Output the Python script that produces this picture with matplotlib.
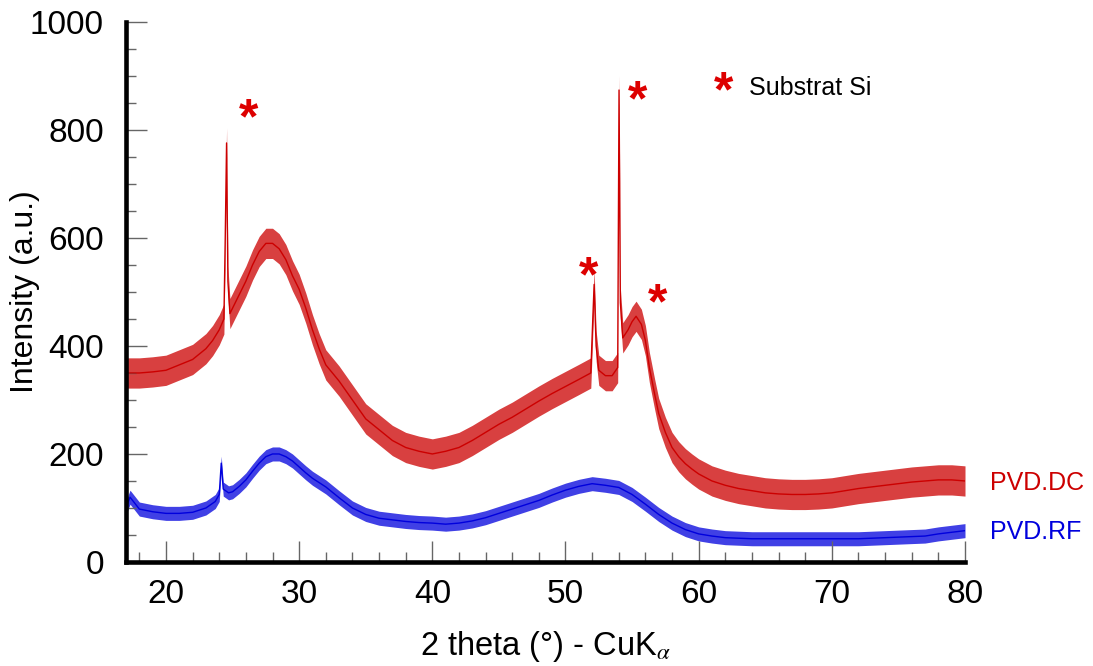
import matplotlib
matplotlib.use("Agg")
import matplotlib.pyplot as plt
import numpy as np

plt.rcParams['font.family'] = ['Liberation Sans', 'DejaVu Sans']
plt.rcParams['mathtext.fontset'] = 'stix'

# ---- data (2 theta in degrees, intensity in a.u.) ----
dc_x = [17, 18, 19, 20, 21, 22, 23, 23.5, 24, 24.35, 24.45, 24.55, 24.65, 24.8, 25, 25.5,
        26, 26.5, 27, 27.5, 28, 28.5, 29, 29.5, 30, 30.5, 31, 31.5, 32, 33, 34, 35, 36,
        37, 38, 39, 40, 41, 42, 43, 44, 45, 46, 47, 48, 49, 50, 51, 51.9, 52.05, 52.15,
        52.3, 52.5, 53, 53.5, 53.92, 54.02, 54.12, 54.3, 54.7, 55, 55.3, 55.7, 56, 56.3,
        56.7, 57, 57.5, 58, 58.5, 59, 59.5, 60, 61, 62, 63, 64, 65, 66, 67, 68, 69, 70,
        71, 72, 73, 74, 75, 76, 77, 78, 79, 80]
dc_y = [350, 350, 352, 355, 365, 375, 395, 410, 430, 450, 600, 776, 520, 460, 470, 495,
        520, 550, 575, 590, 590, 580, 560, 530, 505, 470, 430, 395, 365, 335, 300, 265, 245,
        225, 212, 205, 200, 205, 212, 225, 240, 255, 268, 283, 298, 312, 325, 338, 350, 450, 514,
        400, 355, 345, 345, 360, 874, 480, 415, 430, 445, 455, 440, 410, 360,
        310, 275, 240, 212, 195, 182, 172, 163, 150, 142, 136, 132, 128, 126, 125, 125, 126, 128,
        132, 136, 139, 142, 145, 148, 150, 152, 152, 150]
dc_noise = 28   # half width of the noise band

rf_x = [17, 17.3, 18, 19, 20, 21, 22, 23, 23.7, 24.0, 24.15, 24.3, 24.7, 25, 25.5, 26, 26.5,
        27, 27.5, 28, 28.5, 29, 29.5, 30, 30.5, 31, 31.5, 32, 33, 34, 35, 36, 37, 38, 39,
        40, 41, 42, 43, 44, 45, 46, 47, 48, 49, 50, 51, 52, 53, 54, 55, 56, 57, 58, 59,
        60, 61, 62, 63, 64, 65, 66, 67, 68, 69, 70, 71, 72, 73, 74, 75, 76, 77, 78, 79, 80]
rf_y = [100, 120, 98, 93, 90, 90, 92, 100, 112, 125, 183, 135, 128, 130, 140, 152, 168,
        183, 195, 200, 200, 195, 187, 176, 165, 155, 147, 139, 119, 100, 88, 81, 78, 75, 73,
        72, 70, 72, 76, 82, 90, 98, 106, 114, 124, 133, 140, 145, 142, 138, 125, 107, 88, 72, 60,
        52, 48, 45, 44, 43, 43, 43, 43, 43, 43, 43, 43, 43, 44, 45, 46, 47, 48, 52, 55, 58]
rf_noise = 13

star_pos = [(26.2, 818), (55.4, 852), (51.7, 526), (56.9, 475)]

red = '#CC0000'
blue = '#0000DD'

fig = plt.figure(figsize=(10.93, 6.66), dpi=100)
ax = fig.add_axes([0.1153, 0.1562, 0.7676, 0.8108])

for xs, ys, nz, col in [(dc_x, dc_y, dc_noise, red), (rf_x, rf_y, rf_noise, blue)]:
    xs = np.array(xs, dtype=float)
    ys = np.array(ys, dtype=float)
    ax.fill_between(xs, ys - nz, ys + nz, color=col, alpha=0.75, lw=0)
    ax.plot(xs, ys, color=col, lw=1.0)

ax.set_xlim(17, 80)
ax.set_ylim(0, 1000)
ax.set_xticks([20, 30, 40, 50, 60, 70, 80])
ax.set_xticks(np.arange(18, 81, 2), minor=True)
ax.set_yticks([0, 200, 400, 600, 800, 1000])
ax.set_yticks(np.arange(0, 1001, 50), minor=True)

for s in ['top', 'right']:
    ax.spines[s].set_visible(False)
for s in ['left', 'bottom']:
    ax.spines[s].set_linewidth(3.3)
ax.tick_params(which='both', direction='in', color='#666666', width=1, labelsize=24)
ax.tick_params(which='major', length=15)
ax.tick_params(which='minor', length=7)
ax.tick_params(axis='y', pad=16)
ax.tick_params(axis='x', pad=12)

ax.set_xlabel('2 theta (°) - CuK$_{\\alpha}$', fontsize=23.5, labelpad=14)
ax.set_ylabel('Intensity (a.u.)', fontsize=23)
ax.yaxis.set_label_coords(-0.103, 0.5)

for sx, sy in star_pos:
    ax.text(sx, sy, '*', color='#DD0000', fontsize=36, fontweight='bold',
            ha='center', va='center')
ax.text(61.86, 867, '*', color='#DD0000', fontsize=36, fontweight='bold',
        ha='center', va='center')
ax.text(63.8, 878, 'Substrat Si', fontsize=18, ha='left', va='center')

ax.text(81.9, 146, 'PVD.DC', color=red, fontsize=18, ha='left', va='center', clip_on=False)
ax.text(81.9, 56, 'PVD.RF', color=blue, fontsize=18, ha='left', va='center', clip_on=False)

fig.savefig('out.png', dpi=100)
